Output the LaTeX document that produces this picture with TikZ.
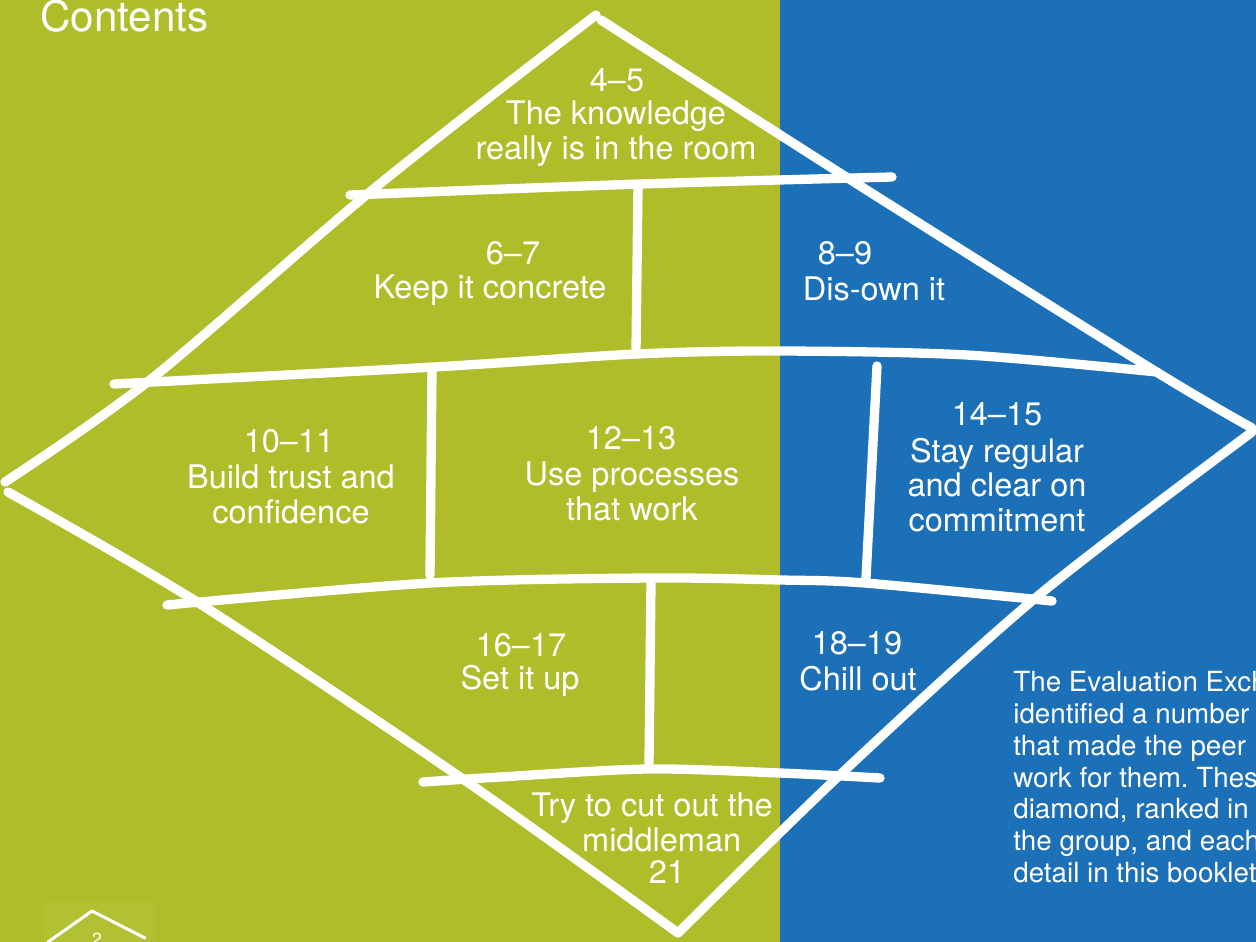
\documentclass[tikz,border=0pt]{standalone}
\usepackage{fontspec}
\setmainfont{TeX Gyre Heros}
\frenchspacing

\definecolor{leaf}{HTML}{AFBD2B}
\definecolor{sea}{HTML}{1C70B8}

\tikzset{
	chalk/.style={white, line width=5.3pt, line cap=round, line join=round},
	numlbl/.style={white, inner sep=0pt, font=\fontsize{18.5}{19.8}\selectfont},
	toplbl/.style={numlbl, align=center},
}

\begin{document}
\begin{tikzpicture}[x=0.02cm, y=-0.02cm]
		\useasboundingbox (0,0) rectangle (1256,942);
		\clip (0,0) rectangle (1256,942);
		
		% Background halves
		\fill[leaf] (0,0) rectangle (780,942);
		\fill[sea] (780,0) rectangle (1256,942);
		
		% Page tab
		\fill[leaf!96!white] (44,902) rectangle (155,942);
		\draw[white, line width=1.7pt, line cap=round, line join=round] (48,942) -- (92,911) -- (145,938);
		\node[white, inner sep=0pt, font=\fontsize{10}{12}\selectfont] (pg) at (97,939) {2};
		
		% Heading
		\node[anchor=base west, white, inner sep=0pt, font=\fontsize{24}{28}\selectfont] (head) at (40,32) {Contents};
		
		% Diamond outline
		\coordinate (top) at (596,15);
		\coordinate (right) at (1252,428);
		\coordinate (bottom) at (678,933);
		\coordinate (left) at (5,482);
		\draw[chalk] plot[smooth] coordinates {(top) (376,187) (150,380) (left)};
		\draw[chalk] plot[smooth] coordinates {(601,20) (854,182) (1150,368) (right)};
		\draw[chalk] plot[smooth] coordinates {(1252,432) (1039,595) (843,772) (bottom)};
		\draw[chalk] plot[smooth] coordinates {(8,492) (197,602) (460,777) (bottom)};
		
		% Cross bands
		\draw[chalk] plot[smooth] coordinates {(350,195) (640,184) (892,177)};
		\draw[chalk] plot[smooth] coordinates {(114,384) (434,367) (637,354) (778,351) (967,355) (1157,372)};
		\draw[chalk] plot[smooth] coordinates {(167,605) (430,583) (650,578) (781,580) (865,583) (1052,601)};
		\draw[chalk] plot[smooth] coordinates {(423,782) (500,777) (647,769) (780,773) (880,778)};
		
		% Dividers
		\draw[chalk] (638,185) -- (636,350);
		\draw[chalk] (432,368) -- (430,575);
		\draw[chalk] (877,366) -- (866,578);
		\draw[chalk] (651,582) -- (649,763);
		
		% Labels
		\node[numlbl] (n45) at (617,80) {4--5};
		\node[toplbl] (t45) at (616,134) {The knowledge\\really is in the room};
		\node[numlbl] (n67) at (513,253) {6--7};
		\node[toplbl] (t67) at (490,290) {Keep it concrete};
		\node[numlbl] (n89) at (845,253) {8--9};
		\node[toplbl] (t89) at (874,289) {Dis-own it};
		\node[numlbl] (n1011) at (289,441) {10--11};
		\node[toplbl] (t1011) at (291,494) {Build trust and\\confidence};
		\node[numlbl] (n1213) at (631,438) {12--13};
		\node[toplbl] (t1213) at (632,491) {Use processes\\that work};
		\node[numlbl] (n1415) at (997,414) {14--15};
		\node[toplbl] (t1415) at (997,485) {Stay regular\\and clear on\\commitment};
		\node[numlbl] (n1617) at (521,645) {16--17};
		\node[toplbl] (t1617) at (520,681) {Set it up};
		\node[numlbl] (n1819) at (857,643) {18--19};
		\node[toplbl] (t1819) at (858,679) {Chill out};
		\node[toplbl] (t21) at (652,822) {Try to cut out the\\\hspace*{11pt}middleman};
		\node[numlbl] (n21) at (667,872) {21};
		
		% Side note
		\node[anchor=north west, white, inner sep=0pt, align=left, font=\fontsize{15.8}{18.1}\selectfont] (note) at (1013,671)
			{The Evaluation Exchange\\identified a number\\that made the peer\\work for them. These\\diamond, ranked in\\the group, and each\\detail in this booklet};
		
	\end{tikzpicture}
\end{document}
